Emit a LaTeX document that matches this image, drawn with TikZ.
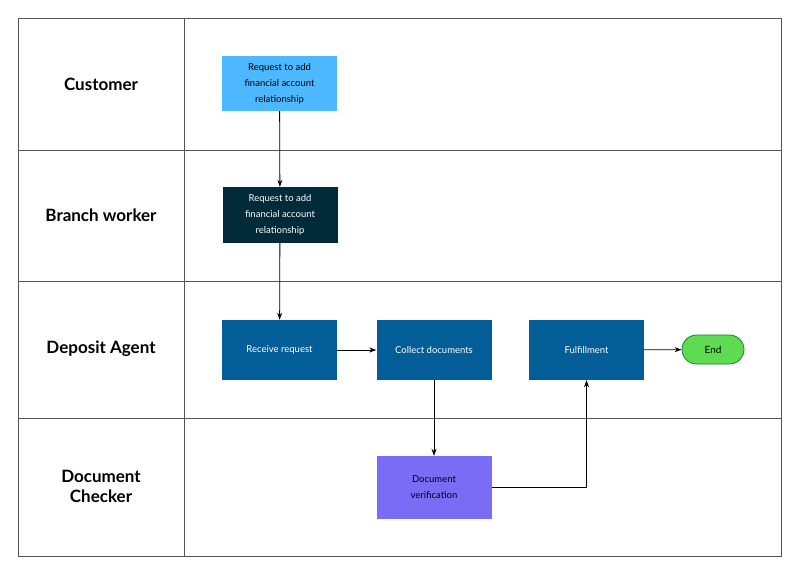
\documentclass[tikz,border=0pt]{standalone}
\usepackage{fontspec}
\setmainfont{Lato}
\usetikzlibrary{arrows.meta}
\definecolor{lightb}{HTML}{4DB8FF}
\definecolor{navy}{HTML}{022B3A}
\definecolor{midb}{HTML}{035D96}
\definecolor{purp}{HTML}{7B6CF6}
\definecolor{grn}{HTML}{5EDB4E}
\definecolor{dgrn}{HTML}{1E7A3A}
\definecolor{linec}{HTML}{555555}
\begin{document}
\begin{tikzpicture}[x=1pt,y=-1pt,
  lane/.style={font=\bfseries\fontsize{17}{20}\selectfont,align=center},
  box/.style={minimum width=115pt,minimum height=58pt,align=center,font=\fontsize{9.5}{16}\selectfont,inner sep=2pt},
  arr/.style={-{Stealth[length=7pt,width=5pt]},black,line width=0.8pt}]
\useasboundingbox (0,0) rectangle (800,576);
\draw[linec,line width=0.8pt] (18,18) rectangle (781,556);
\draw[linec,line width=0.8pt] (184,18) -- (184,556);
\foreach \y in {150,281,418} \draw[linec,line width=0.8pt] (18,\y) -- (781,\y);
\node[lane] (l1) at (101,84) {Customer};
\node[lane] (l2) at (101,215) {Branch worker};
\node[lane] (l3) at (101,349) {Deposit Agent};
\node[lane] (l4) at (101,486) {Document\\Checker};
\node[box,fill=lightb,text=black,minimum height=55pt] (c) at (279.5,83.5) {Request to add\\financial account\\relationship};
\node[box,fill=navy,text=white,minimum height=56pt] (b) at (280,215) {Request to add\\financial account\\relationship};
\node[box,fill=midb,text=white,minimum height=60pt] (r) at (279.5,350) {Receive request};
\node[box,fill=midb,text=white,minimum height=60pt] (co) at (434,350) {Collect documents};
\node[box,fill=midb,text=white,minimum height=60pt] (f) at (586.5,350) {Fulfillment};
\node[box,fill=purp,text=black,minimum height=63pt] (d) at (434,487.5) {Document\\verification};
\node[draw=dgrn,line width=0.8pt,fill=grn,rounded corners=14.5pt,minimum width=62pt,minimum height=29pt,font=\fontsize{10}{12}\selectfont] (e) at (713,349.5) {End};
\draw[arr] (c) -- (b);
\draw[arr] (b) -- (r);
\draw[arr] (r) -- (co);
\draw[arr] (co) -- (d);
\draw[arr] (d.east) -| (f.south);
\draw[arr] (f) -- (e);
\end{tikzpicture}
\end{document}
